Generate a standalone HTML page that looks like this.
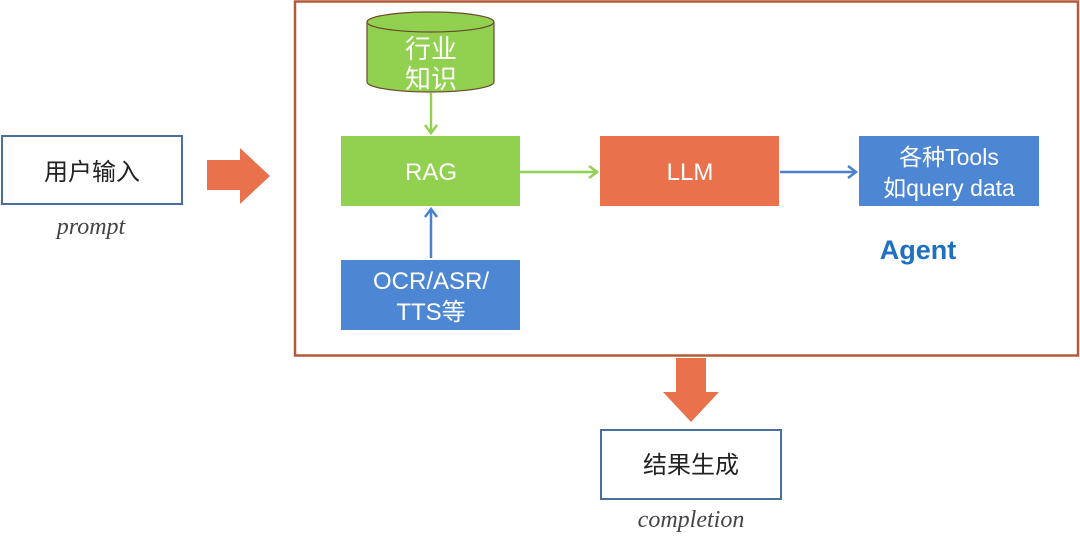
<!DOCTYPE html>
<html><head><meta charset="utf-8"><style>
html,body{margin:0;padding:0;background:#fff;}
svg{display:block}
text{font-family:"Liberation Sans","Noto Sans CJK SC",sans-serif;}
text.it{font-family:"Liberation Serif",serif;font-style:italic;}
</style></head><body>
<svg width="1080" height="539" viewBox="0 0 1080 539" xmlns="http://www.w3.org/2000/svg">
<rect x="295" y="1.5" width="783" height="354" fill="none" stroke="#b25a3c" stroke-width="2.5"/>
<path d="M367,22 L367,82 A63.5,10 0 0 0 494,82 L494,22" fill="#92d050" stroke="#6a4a2c" stroke-width="1.2"/>
<ellipse cx="430.5" cy="22" rx="63.5" ry="10" fill="#92d050" stroke="#6a4a2c" stroke-width="1.2"/>
<text x="431" y="58" font-size="26" fill="#fff" text-anchor="middle">行业</text>
<text x="431" y="88" font-size="26" fill="#fff" text-anchor="middle">知识</text>
<line x1="431" y1="93" x2="431" y2="133" stroke="#92d050" stroke-width="2.5"/>
<polyline points="425,125 431,133 437,125" fill="none" stroke="#92d050" stroke-width="2.5"/>
<rect x="341" y="136" width="179" height="70" fill="#92d050"/>
<text x="431" y="180" font-size="24" fill="#fff" text-anchor="middle">RAG</text>
<line x1="520" y1="172" x2="597" y2="172" stroke="#92d050" stroke-width="2.5"/>
<polyline points="589,166 597,172 589,178" fill="none" stroke="#92d050" stroke-width="2.5"/>
<rect x="600" y="136" width="179" height="70" fill="#e9714b"/>
<text x="690" y="180" font-size="24" fill="#fff" text-anchor="middle">LLM</text>
<line x1="780" y1="172" x2="856" y2="172" stroke="#4a80cc" stroke-width="2.5"/>
<polyline points="848,166 856,172 848,178" fill="none" stroke="#4a80cc" stroke-width="2.5"/>
<rect x="859" y="136" width="180" height="70" fill="#4d86d3"/>
<text x="949" y="165" font-size="23" fill="#fff" text-anchor="middle">各种Tools</text>
<text x="949" y="196" font-size="23" fill="#fff" text-anchor="middle">如query data</text>
<text x="918" y="259" font-size="27" font-weight="bold" fill="#1f70c1" text-anchor="middle">Agent</text>
<rect x="341" y="260" width="179" height="70" fill="#4d86d3"/>
<text x="431" y="289" font-size="24" fill="#fff" text-anchor="middle">OCR/ASR/</text>
<text x="431" y="320" font-size="24" fill="#fff" text-anchor="middle">TTS等</text>
<line x1="431" y1="258" x2="431" y2="209" stroke="#4a80cc" stroke-width="2.5"/>
<polyline points="425,217 431,209 437,217" fill="none" stroke="#4a80cc" stroke-width="2.5"/>
<rect x="2" y="136" width="180" height="68" fill="#fff" stroke="#4a6f9c" stroke-width="2"/>
<text x="92" y="180" font-size="24" fill="#222" text-anchor="middle">用户输入</text>
<text class="it" x="91" y="234" font-size="24" fill="#444" text-anchor="middle">prompt</text>
<polygon points="207,160 240,160 240,148 270,176 240,204 240,190 207,190" fill="#e9714b"/>
<polygon points="676,358 706,358 706,392 719,392 691,422 663,392 676,392" fill="#e9714b"/>
<rect x="601" y="430" width="180" height="69" fill="#fff" stroke="#4a6f9c" stroke-width="2"/>
<text x="691" y="473" font-size="24" fill="#222" text-anchor="middle">结果生成</text>
<text class="it" x="691" y="527" font-size="24" fill="#444" text-anchor="middle">completion</text>
</svg>
</body></html>
